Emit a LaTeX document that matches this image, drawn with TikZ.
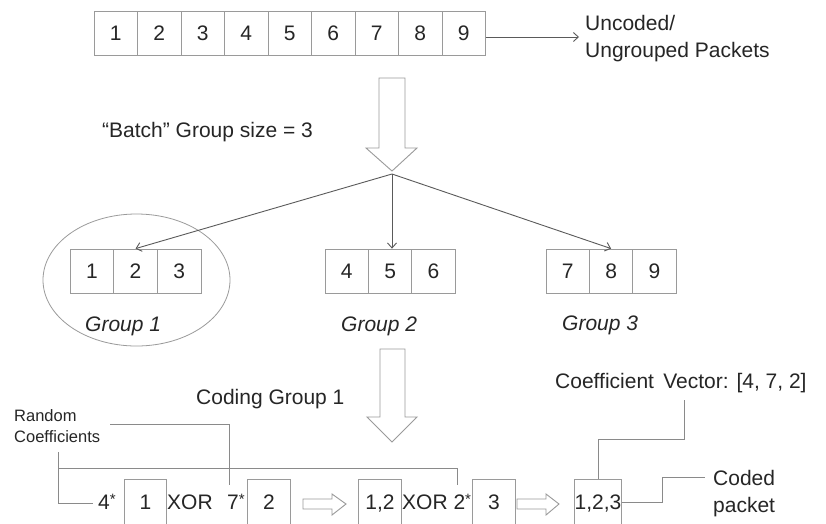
\documentclass[tikz,border=0pt]{standalone}
\usepackage{fontspec}
\setmainfont{Liberation Sans}
\usetikzlibrary{arrows.meta}
\definecolor{txt}{HTML}{262626}
\definecolor{boxc}{HTML}{9A9A9A}
\definecolor{linec}{HTML}{5A5A5A}
\definecolor{thinc}{HTML}{8A8A8A}
\newcommand{\smast}{\raisebox{4.5pt}{\fontsize{15}{15}\selectfont *}}
\tikzset{
  pkt/.style={draw=boxc, line width=0.8pt, minimum width=43.5pt, minimum height=44pt, inner sep=0pt,
    text height=15pt, text depth=0pt, text=txt, font=\fontsize{21}{25}\selectfont},
  bpkt/.style={pkt, minimum width=42.5pt, minimum height=46pt},
  lbl/.style={inner sep=0pt, text=txt, font=\fontsize{21}{27}\selectfont},
  glbl/.style={lbl, font=\fontsize{21}{26}\selectfont\itshape},
  small/.style={inner sep=0pt, text=txt, font=\fontsize{16.5}{21}\selectfont, align=left},
  conn/.style={draw=linec, line width=0.9pt, -{Straight Barb[length=5pt,width=9pt]}},
  thin/.style={draw=thinc, line width=0.8pt},
  hollow/.style={draw=boxc, line width=0.9pt, fill=white, line join=miter},
}
\begin{document}
\begin{tikzpicture}[x=1pt,y=-1pt]
\useasboundingbox (0,0) rectangle (826,523);
\clip (0,0) rectangle (826,523);
\fill[white] (0,0) rectangle (826,523);

% top row
\foreach \i in {1,...,9} {
  \node[pkt] (t\i) at ({94+43.5*(\i-0.5)},33) {\i};
}
\node[lbl, anchor=base west, align=left] (unc) at (585,57) {Uncoded/\\Ungrouped Packets};
\coordinate (uncIn) at (579,37);
\draw[conn] (t9.east |- uncIn) -- (uncIn);

% big arrow 1
\draw[hollow] (379,78) -- (405,78) -- (405,148) -- (417,148) -- (392,171) -- (366,148) -- (379,148) -- cycle;
\node[lbl, anchor=base west] (batch) at (102,137) {“Batch” Group size = 3};

% groups
\foreach \i/\n in {1/1,2/2,3/3} {
  \node[pkt] (ga\n) at ({70+43.7*(\i-0.5)},271) {\n};
}
\foreach \i/\n in {1/4,2/5,3/6} {
  \node[pkt] (gb\n) at ({325+43.4*(\i-0.5)},271) {\n};
}
\foreach \i/\n in {1/7,2/8,3/9} {
  \node[pkt] (gc\n) at ({546+43.4*(\i-0.5)},271) {\n};
}
\draw[boxc, line width=0.8pt] (136.5,280) ellipse [x radius=93.5, y radius=66];
\node[glbl, anchor=base west] (g1) at (85,331) {Group 1};
\node[glbl, anchor=base west] (g2) at (341,331) {Group 2};
\node[glbl, anchor=base west] (g3) at (562,330) {Group 3};

\coordinate (split) at (392,174);
\draw[conn] (split) -- (ga2.north);
\draw[conn] (split) -- (gb5.north -| split);
\draw[conn] (split) -- (gc8.north);

% big arrow 2
\draw[hollow] (380,349) -- (405,349) -- (405,417) -- (417,417) -- (392,442) -- (367,417) -- (380,417) -- cycle;
\node[lbl, anchor=base west] (cg) at (196,404) {Coding Group 1};

% bottom row
\node[small, anchor=base west] (rc) at (14,442) {Random\\Coefficients};
\node[lbl, anchor=base west] (c4) at (98,509) {4\smast};
\node[bpkt] (p1) at (145.5,502) {1};
\node[lbl, anchor=base west] (x1) at (167,509) {XOR};
\node[lbl, anchor=base west] (c7) at (227,509) {7\smast};
\node[bpkt] (p2) at (269,502) {2};
\draw[hollow] (303,499) -- (332,499) -- (332,494) -- (346,504) -- (332,515) -- (332,509) -- (303,509) -- cycle;
\node[bpkt] (p12) at (380,502) {1,2};
\node[lbl, anchor=base west] (x2) at (402,509) {XOR 2\smast};
\node[bpkt] (p3) at (494,502) {3};
\draw[hollow] (517,499) -- (546,499) -- (546,494) -- (559,504) -- (546,515) -- (546,509) -- (517,509) -- cycle;
\node[bpkt] (p123) at (598,502) {1,2,3};
\node[lbl, anchor=base west] (cv) at (555,388) {Coefficient\, Vector: [4, 7, 2]};
\node[lbl, anchor=base west, align=left] (coded) at (713,512) {Coded\\packet};

% connectors bottom
\coordinate (rcOut) at (110,424);
\coordinate (c7top) at (229,485);
\draw[thin] (rcOut) -| (c7top);
\coordinate (bracketTop) at (58,452);
\coordinate (c4left) at (93,503);
\draw[thin] (bracketTop) |- (c4left);
\coordinate (bracketMid) at (58,468);
\coordinate (c2top) at (457,485);
\draw[thin] (bracketMid) -| (c2top);
\coordinate (cvTap) at (684,400);
\draw[thin] (cvTap) -- (684,439) -| (p123.north);
\coordinate (codedIn) at (705,477);
\draw[thin] (p123.east) -- (662,502) |- (codedIn);
\end{tikzpicture}
\end{document}
